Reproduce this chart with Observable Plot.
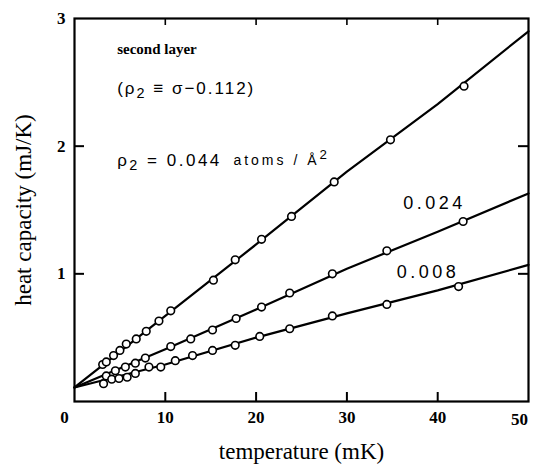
<!DOCTYPE html>
<html><head><meta charset="utf-8">
<script src="https://cdn.jsdelivr.net/npm/d3@7"></script>
<script src="https://cdn.jsdelivr.net/npm/@observablehq/plot@0.6"></script>
<style>
body{margin:0;background:#fff}
#chart svg{display:block;background:#fff}
g[aria-label="x-axis tick label"], g[aria-label="y-axis tick label"]{font-family:"Liberation Serif";font-weight:bold;font-size:17px}
g[aria-label="x-axis label"], g[aria-label="y-axis label"]{font-family:"Liberation Serif";font-size:23px}
</style></head><body><div id="chart"></div>
<script>
// measured points, coverage rho2 = 0.044 atoms/A^2
const temp044 = [3.1, 3.5, 4.3, 5.0, 5.7, 6.8, 7.9, 9.3, 10.6, 15.3, 17.7, 20.6, 23.9, 28.6, 34.8, 42.9];
const heat044 = [0.29, 0.31, 0.36, 0.40, 0.45, 0.49, 0.55, 0.63, 0.71, 0.95, 1.11, 1.27, 1.45, 1.72, 2.05, 2.47];
// rho2 = 0.024
const temp024 = [3.5, 4.5, 5.6, 6.7, 7.8, 10.6, 12.8, 15.2, 17.8, 20.6, 23.7, 28.4, 34.4, 42.8];
const heat024 = [0.20, 0.24, 0.27, 0.30, 0.34, 0.43, 0.49, 0.56, 0.65, 0.74, 0.85, 1.00, 1.18, 1.41];
// rho2 = 0.008
const temp008 = [3.2, 4.1, 4.9, 5.8, 6.7, 8.2, 9.5, 11.1, 13.0, 15.2, 17.7, 20.4, 23.7, 28.4, 34.4, 42.3];
const heat008 = [0.14, 0.175, 0.18, 0.19, 0.22, 0.27, 0.27, 0.32, 0.36, 0.40, 0.44, 0.51, 0.57, 0.67, 0.76, 0.90];
// drawn curves through the data
const fitTemp = [0, 10, 20, 30, 40, 50];
const fit044 = [0.11, 0.67, 1.23, 1.80, 2.33, 2.90];
const fit024 = [0.11, 0.41, 0.72, 1.04, 1.33, 1.63];
const fit008 = [0.11, 0.29, 0.50, 0.69, 0.87, 1.07];
// axes
const xTicksMid = [10, 20, 30, 40];
const xTickFirst = [0];
const xTickLast = [50];
const xInner = [10, 20, 30, 40];
const yTicks = [1, 2, 3];
const yInner = [1, 2];

const pts = [].concat(
  temp044.map((t, i) => ({s: "0.044", t, c: heat044[i]})),
  temp024.map((t, i) => ({s: "0.024", t, c: heat024[i]})),
  temp008.map((t, i) => ({s: "0.008", t, c: heat008[i]}))
);
const fits = [].concat(
  fitTemp.map((t, i) => ({s: "0.044", t, c: fit044[i]})),
  fitTemp.map((t, i) => ({s: "0.024", t, c: fit024[i]})),
  fitTemp.map((t, i) => ({s: "0.008", t, c: fit008[i]}))
);

const W = 534, H = 472, ML = 74, MR = 6, MT = 18, MB = 71;
const innerW = W - ML - MR, innerH = H - MT - MB;

const chart = Plot.plot({
  width: W, height: H,
  marginLeft: ML, marginRight: MR, marginTop: MT, marginBottom: MB,
  x: {domain: [0, 50]},
  y: {domain: [0, 3]},
  style: {background: "white", color: "black", fontFamily: "Liberation Serif"},
  marks: [
    Plot.axisX(xTicksMid, {anchor: "bottom", tickSize: 0, tickPadding: 9, label: "temperature (mK)", labelArrow: "none", labelAnchor: "center", labelOffset: 57, tickFormat: d => String(d)}),
    Plot.axisX(xTickFirst, {anchor: "bottom", tickSize: 0, tickPadding: 9, dx: -10, label: null, tickFormat: d => String(d)}),
    Plot.axisX(xTickLast, {anchor: "bottom", tickSize: 0, tickPadding: 11, dx: -9, label: null, tickFormat: d => String(d)}),
    Plot.axisY(yTicks, {anchor: "left", tickSize: 0, tickPadding: 9, label: "heat capacity (mJ/K)", labelArrow: "none", labelAnchor: "center", labelOffset: 60, tickFormat: d => String(d)}),
    Plot.tickX(xInner, {x: d => d, insetTop: innerH - 9, stroke: "black", strokeWidth: 2}),
    Plot.tickX(xInner, {x: d => d, insetBottom: innerH - 7, stroke: "black", strokeWidth: 1.6}),
    Plot.tickY(yInner, {y: d => d, insetRight: innerW - 10, stroke: "black", strokeWidth: 2}),
    Plot.tickY(yInner, {y: d => d, insetLeft: innerW - 10, stroke: "black", strokeWidth: 2}),
    Plot.frame({stroke: "black", strokeWidth: 2.2}),
    Plot.line(fits, {x: "t", y: "c", z: "s", stroke: "black", strokeWidth: 2.2}),
    Plot.dot(pts, {x: "t", y: "c", r: 3.8, fill: "white", stroke: "black", strokeWidth: 1.6}),
    Plot.text(["second layer"], {x: 4.7, y: 2.76, text: d => d, textAnchor: "start", fontFamily: "Liberation Serif", fontWeight: "bold", fontSize: 15}),
    Plot.text(["(ρ₂ ≡ σ−0.112)"], {x: 4.7, y: 2.45, text: d => d, textAnchor: "start", fontFamily: "Liberation Sans", fontSize: 17}),
    Plot.text(["ρ₂ = 0.044"], {x: 4.7, y: 1.89, text: d => d, textAnchor: "start", fontFamily: "Liberation Sans", fontSize: 17}),
    Plot.text(["atoms / Å²"], {x: 17.5, y: 1.89, text: d => d, textAnchor: "start", fontFamily: "Liberation Sans", fontSize: 14}),
    Plot.text(["0.024"], {x: 36.2, y: 1.55, text: d => d, textAnchor: "start", fontFamily: "Liberation Sans", fontSize: 18}),
    Plot.text(["0.008"], {x: 35.5, y: 1.01, text: d => d, textAnchor: "start", fontFamily: "Liberation Sans", fontSize: 18})
  ]
});
document.getElementById("chart").appendChild(chart);
const spacing = {"(ρ₂ ≡ σ−0.112)": "2px", "ρ₂ = 0.044": "2.5px", "atoms / Å²": "3px", "0.024": "3.5px", "0.008": "3.5px"};
d3.select(chart).selectAll("text").each(function() {
  const txt = this.textContent;
  const s = spacing[txt];
  if (!s) return;
  const el = d3.select(this).style("letter-spacing", s);
  // render subscript / superscript 2 as shifted digits
  if (/[₂²]/.test(txt)) {
    el.text(null);
    const parts = txt.split(/([₂²])/);
    let back = 0;
    for (const p of parts) {
      if (!p) continue;
      if (p === "₂") { el.append("tspan").attr("dy", "0.28em").style("font-size", "0.85em").text("2"); back = -0.28 * 0.85; }
      else if (p === "²") { el.append("tspan").attr("dy", "-0.45em").style("font-size", "0.95em").text("2"); }
      else { const t = el.append("tspan").text(p); if (back) { t.attr("dy", back + "em"); back = 0; } }
    }
  }
});
</script></body></html>
